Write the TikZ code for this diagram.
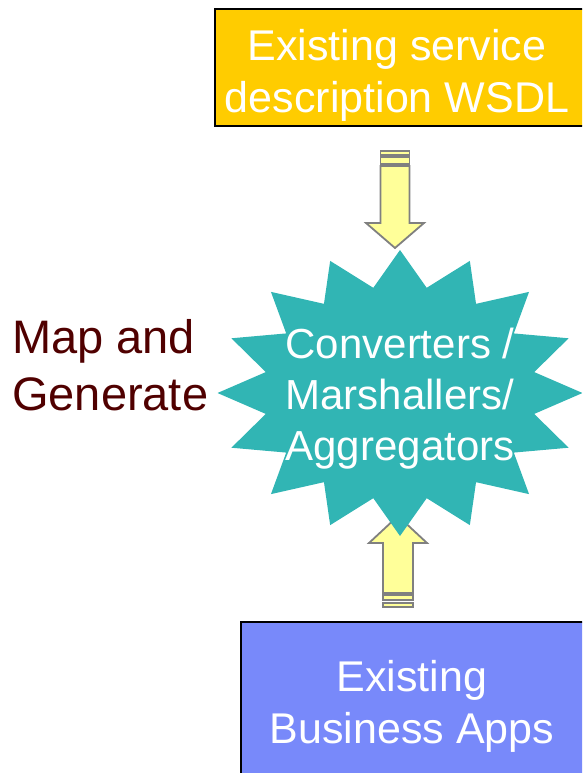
\documentclass[tikz,border=0pt]{standalone}
\usepackage{fontspec}
\setmainfont{Liberation Sans}
\definecolor{wsdlyellow}{RGB}{255,204,0}
\definecolor{appsblue}{RGB}{120,137,250}
\definecolor{startea}{RGB}{49,181,180}
\definecolor{arrowyellow}{RGB}{255,255,153}
\definecolor{arrowgray}{RGB}{128,128,128}
\definecolor{mapred}{RGB}{80,0,0}

\begin{document}
\begin{tikzpicture}[x=1pt, y=-1pt,
    box/.style={draw=black, line width=1.5pt},
    boxtext/.style={text=white, align=center, inner sep=0pt,
        font=\fontsize{43}{52}\selectfont},
    blockarrow/.style={fill=arrowyellow, draw=arrowgray, line width=1.8pt}]
    \useasboundingbox (0,0) rectangle (582,773);
    \clip (0,0) rectangle (582,773);

    % boxes
    \node[box, fill=wsdlyellow, minimum width=375pt, minimum height=117pt] (wsdl)
        at (402.5,67.5) {};
    \node[boxtext] (wsdltext) at (397,75) {Existing service\\description WSDL};
    \node[box, fill=appsblue, minimum width=350pt, minimum height=154pt] (apps)
        at (416,699) {};
    \node[boxtext] (appstext) at (412,706) {Existing\\Business Apps};

    % arrow from the WSDL down
    \coordinate (dtail) at (395,151);
    \filldraw[blockarrow] (dtail) ++(-14.5,0) rectangle ++(29,4);
    \filldraw[blockarrow] (dtail) ++(-14.5,6) rectangle ++(29,7);
    \filldraw[blockarrow] (dtail) ++(-14.5,15) -- ++(29,0) -- ++(0,57) -- ++(14.5,0)
        -- ++(-29,25) -- ++(-29,-25) -- ++(14.5,0) -- cycle;

    % arrow from the apps up
    \coordinate (utail) at (398,607);
    \filldraw[blockarrow] (utail) ++(-15,0) rectangle ++(30,-4);
    \filldraw[blockarrow] (utail) ++(-15,-7) rectangle ++(30,-5);
    \filldraw[blockarrow] (utail) ++(-15,-14) -- ++(30,0) -- ++(0,-50) -- ++(14,0)
        -- ++(-29,-27) -- ++(-29,27) -- ++(14,0) -- cycle;

    % star
    \begin{scope}[shift={(400,393)}]
        \fill[startea] (90:182.5 and 143)
            \foreach \i in {1,...,31}{
                -- ({90+\i*11.25}:{182.5*(1-0.25*mod(\i,2))} and {143*(1-0.25*mod(\i,2))})
            } -- cycle;
    \end{scope}
    \node[text=white, align=center, inner sep=0pt, font=\fontsize{42}{51}\selectfont] (conv)
        at (400,399) {Converters /\\Marshallers/\\Aggregators};

    \node[text=mapred, align=left, anchor=west, inner sep=0pt,
        font=\fontsize{47}{57}\selectfont] (mapgen) at (12,365) {Map and\\Generate};
\end{tikzpicture}
\end{document}
